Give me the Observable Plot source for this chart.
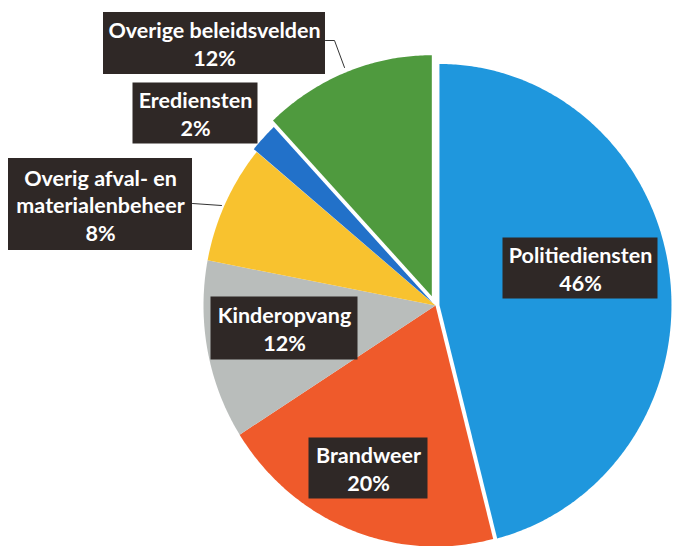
<!DOCTYPE html>
<html>
<head>
<meta charset="utf-8">
<script src="https://cdn.jsdelivr.net/npm/d3@7"></script>
<script src="https://cdn.jsdelivr.net/npm/@observablehq/plot@0.6"></script>
<style>
  html, body { margin: 0; padding: 0; background: #fff; }
  #chart svg { display: block; }
</style>
</head>
<body>
<div id="chart"></div>
<script>
// ---- data ----
const categories = ["Politiediensten", "Brandweer", "Kinderopvang", "Overig afval- en materialenbeheer", "Erediensten", "Overige beleidsvelden"];
const shares = [46, 20, 12, 8, 2, 12];
const labelTexts = ["Politiediensten", "Brandweer", "Kinderopvang", "Overig afval- en\nmaterialenbeheer", "Erediensten", "Overige beleidsvelden"];

// ---- styles / layout ----
const colors = ["#1f97dd", "#ef5a2b", "#b9bdbb", "#f8c22f", "#2271c9", "#4f9a3e"];
const W = 674, H = 546;
const pieCenter = [435, 305];
const rx = 232, ry = 241;
const explode = [4, 0, 0, 0, 4, 10];            // px offset along slice mid-angle
// label box centre offsets from pie centre, and box sizes
const labelOffset = [[145, -37], [-67, 163], [-151, 23], [-335, -101], [-240, -192], [-221, -262]];
const labelSize = [[155, 61], [119, 61], [147, 63], [184, 92], [125, 61], [222, 62]];
const leaders = {
  "Overige beleidsvelden": [[325, 40], [334, 40], [344, 67]],
  "Overig afval- en materialenbeheer": [[192, 203], [221, 205]]
};

const data = categories.map((c, i) => ({category: c, share: shares[i], label: labelTexts[i]}));
const arcs = d3.pie().sort(null).value(d => d.share)(data);

// slice outlines from pie angles
const slicePts = [];
arcs.forEach((a, i) => {
  const mid = (a.startAngle + a.endAngle) / 2;
  const ox = pieCenter[0] + explode[i] * Math.sin(mid);
  const oy = pieCenter[1] - explode[i] * Math.cos(mid);
  const name = a.data.category;
  slicePts.push({category: name, x: ox, y: oy});
  const n = Math.max(4, Math.ceil((a.endAngle - a.startAngle) / 0.01));
  for (let k = 0; k <= n; k++) {
    const t = a.startAngle + (a.endAngle - a.startAngle) * k / n;
    slicePts.push({category: name, x: ox + rx * Math.sin(t), y: oy - ry * Math.cos(t)});
  }
});

const labels = arcs.map((a, i) => ({
  category: a.data.category,
  text: a.data.label + "\n" + a.data.share + "%",
  x: pieCenter[0] + labelOffset[i][0],
  y: pieCenter[1] + labelOffset[i][1],
  w: labelSize[i][0],
  h: labelSize[i][1]
}));

const leaderPts = [];
Object.entries(leaders).forEach(([k, pts]) => pts.forEach(p => leaderPts.push({category: k, x: p[0], y: p[1]})));

const chart = Plot.plot({
  width: W,
  height: H,
  margin: 0,
  x: {domain: [0, W], range: [0, W], axis: null},
  y: {domain: [0, H], range: [0, H], axis: null},
  color: {domain: categories, range: colors},
  style: {fontFamily: "Lato, 'Open Sans', sans-serif", background: "#fff"},
  marks: [
    Plot.line(slicePts, {x: "x", y: "y", z: "category", fill: "category", stroke: "none", curve: "linear-closed"}),
    Plot.line(leaderPts, {x: "x", y: "y", z: "category", stroke: "#333", strokeWidth: 1}),
    Plot.rect(labels, {x1: d => d.x - d.w / 2, x2: d => d.x + d.w / 2, y1: d => d.y - d.h / 2, y2: d => d.y + d.h / 2, fill: "#2f2826"}),
    Plot.text(labels, {x: "x", y: "y", text: "text", fill: "white", fontSize: 21.5, fontWeight: "bold", lineHeight: 1.3, lineAnchor: "middle"})
  ]
});
document.getElementById("chart").appendChild(chart);
</script>
</body>
</html>
